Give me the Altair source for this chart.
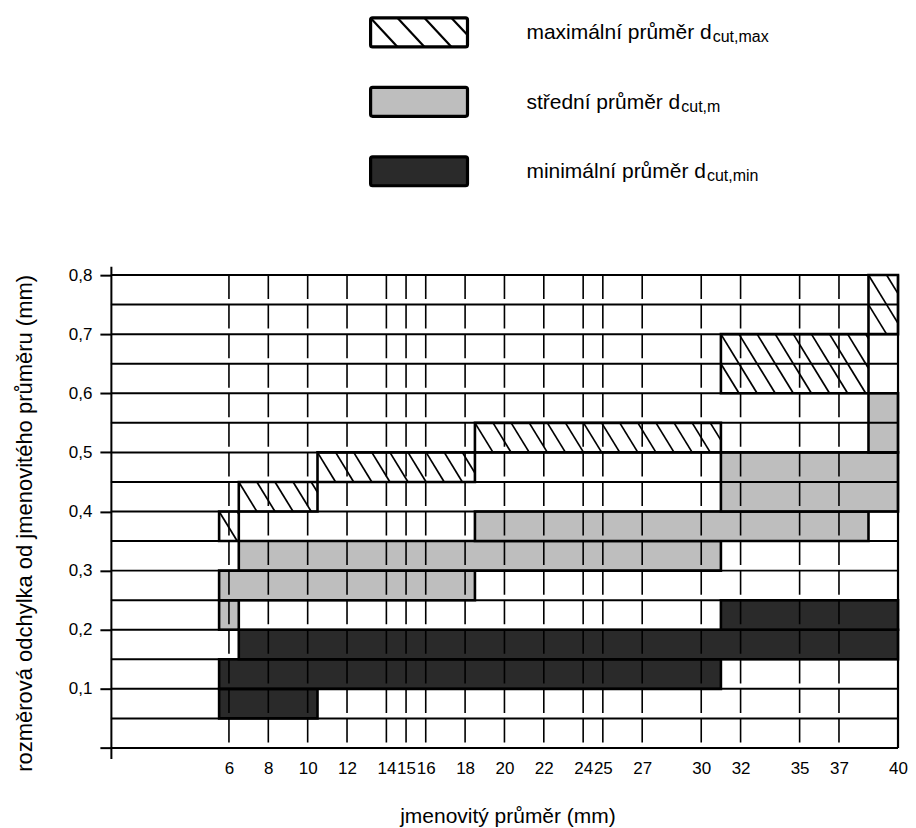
import altair as alt
import numpy as np
import pandas as pd

# ---------------- data ----------------
SERIES = ["max", "mid", "min"]
LEGEND_TEXT = ["maximální průměr d", "střední průměr d", "minimální průměr d"]
LEGEND_SUB = ["cut,max", "cut,m", "cut,min"]

MAX_X1 = [5.5, 6.5, 10.5, 18.5, 31.0, 38.5]
MAX_X2 = [6.5, 10.5, 18.5, 31.0, 38.5, 40.0]
MAX_Y1 = [0.35, 0.40, 0.45, 0.50, 0.60, 0.70]
MAX_Y2 = [0.40, 0.45, 0.50, 0.55, 0.70, 0.80]

MID_X1 = [5.5, 5.5, 6.5, 18.5, 31.0, 38.5]
MID_X2 = [6.5, 18.5, 31.0, 38.5, 40.0, 40.0]
MID_Y1 = [0.20, 0.25, 0.30, 0.35, 0.40, 0.50]
MID_Y2 = [0.25, 0.30, 0.35, 0.40, 0.50, 0.60]

MIN_X1 = [5.5, 5.5, 6.5, 31.0]
MIN_X2 = [10.5, 31.0, 40.0, 40.0]
MIN_Y1 = [0.05, 0.10, 0.15, 0.20]
MIN_Y2 = [0.10, 0.15, 0.20, 0.25]

X_TICKS = [6, 8, 10, 12, 14, 15, 16, 18, 20, 22, 24, 25, 27, 30, 32, 35, 37, 40]
Y_TICKS = [0, 0.1, 0.2, 0.3, 0.4, 0.5, 0.6, 0.7, 0.8]
Y_LINES = [0, 0.05, 0.1, 0.15, 0.2, 0.25, 0.3, 0.35, 0.4, 0.45, 0.5, 0.55,
           0.6, 0.65, 0.7, 0.75, 0.8]
X_MIN, X_MAX = 0, 40
Y_TOP = 0.8
ROW = 0.05

X_TITLE = "jmenovitý průměr (mm)"
Y_TITLE = "rozměrová odchylka od jmenovitého průměru (mm)"

# ---------------- styles / layout ----------------
FONT = "Liberation Sans"
COLORS = ["#ffffff", "#bebebe", "#2a2a2a"]
W, H = 788, 493
Y_DOMAIN = [-0.018, 0.815]
LEG_H = 252
HATCH_STEP = 0.92  # x units between hatch lines (= shift per row)

# legend layout in pixels (relative to the legend panel)
LEG_BX1, LEG_BX2 = 260, 357
LEG_CY0, LEG_STEP, LEG_BH = 19, 69.5, 29
LEG_TX = 416
LEG_FS, LEG_SUB_FS = 21, 16

ARIAL = {'m': 833, 'a': 556, 'x': 500, 'i': 222, 'á': 556, 'l': 222, 'n': 556,
         'í': 278, ' ': 278, 'p': 556, 'r': 333, 'ů': 556, 'ě': 556, 'd': 556,
         's': 500, 't': 278, 'ř': 333, 'e': 556}


def text_width(s, size):
    return sum(ARIAL.get(c, 556) for c in s) * size / 1000.0


def frame(series, x1, x2, y1, y2):
    return pd.DataFrame({"series": series, "x1": x1, "x2": x2, "y1": y1, "y2": y2})


bars = pd.concat([
    frame("max", MAX_X1, MAX_X2, MAX_Y1, MAX_Y2),
    frame("mid", MID_X1, MID_X2, MID_Y1, MID_Y2),
    frame("min", MIN_X1, MIN_X2, MIN_Y1, MIN_Y2),
], ignore_index=True)


def hatch_row(x1, x2, ytop, ybot, step, shift):
    segs = []
    j = -int(np.ceil(shift / step)) - 1
    while True:
        c = x1 + j * step
        if c >= x2:
            break
        t_lo = max(0.0, (x1 - c) / shift)
        t_hi = min(1.0, (x2 - c) / shift)
        if t_hi > t_lo + 1e-9:
            segs.append((c + t_lo * shift, ytop - t_lo * (ytop - ybot),
                         c + t_hi * shift, ytop - t_hi * (ytop - ybot)))
        j += 1
    return segs


hatch_segs = []
for x1, x2, y1, y2 in zip(MAX_X1, MAX_X2, MAX_Y1, MAX_Y2):
    n = int(round((y2 - y1) / ROW))
    for r in range(n):
        top = y2 - r * ROW
        hatch_segs += hatch_row(x1, x2, top, top - ROW, HATCH_STEP, HATCH_STEP)
hatch_df = pd.DataFrame(hatch_segs, columns=["hx1", "hy1", "hx2", "hy2"])

vlines = pd.DataFrame({"x": [t for t in X_TICKS if t < X_MAX]})
vlines["top"] = Y_TOP
vlines["bot"] = 0.0
border = pd.DataFrame({"x": [X_MAX], "top": [Y_TOP], "bot": [0.0]})
hlines = pd.DataFrame({"level": Y_LINES})
hlines["xa"] = X_MIN
hlines["xb"] = X_MAX

xs = alt.Scale(domain=[X_MIN, X_MAX], nice=False, zero=False)
ys = alt.Scale(domain=Y_DOMAIN, nice=False, zero=False)
cs = alt.Scale(domain=SERIES, range=COLORS)

x_axis = alt.Axis(values=X_TICKS, ticks=False, domain=False, grid=False,
                  labelFontSize=17, labelColor="black", labelPadding=2,
                  labelFlush=False, labelOverlap=False,
                  title=X_TITLE, titleFontSize=21, titleFontWeight="normal",
                  titleColor="black", titleX=397, titleY=64,
                  titleBaseline="alphabetic", titleAlign="center")
y_axis = alt.Axis(values=Y_TICKS, grid=False, tickSize=11, tickWidth=2,
                  tickColor="black", domainColor="black", domainWidth=2,
                  labelFontSize=17, labelColor="black", labelPadding=8,
                  labelFlush=False, labelOverlap=False,
                  labelExpr="datum.value == 0 ? '' : replace(format(datum.value, '.1f'), '.', ',')",
                  title=Y_TITLE, titleFontSize=22, titleFontWeight="normal",
                  titleColor="black", titleAngle=270, titleX=-79, titleY=257,
                  titleBaseline="alphabetic", titleAlign="center")

bar_layer = alt.Chart(bars).mark_rect(stroke="black", strokeWidth=2.6).encode(
    x=alt.X("x1:Q", scale=xs, axis=x_axis), x2="x2:Q",
    y=alt.Y("y1:Q", scale=ys, axis=y_axis), y2="y2:Q",
    color=alt.Color("series:N", scale=cs, legend=None),
)
hatch_layer = alt.Chart(hatch_df).mark_rule(color="black", strokeWidth=1.7).encode(
    x=alt.X("hx1:Q", scale=xs, axis=x_axis), x2="hx2:Q",
    y=alt.Y("hy1:Q", scale=ys, axis=y_axis), y2="hy2:Q",
)
vdash_layer = alt.Chart(vlines).mark_rule(color="black", strokeWidth=1.6,
                                          strokeDash=[24, 5.6]).encode(
    x=alt.X("x:Q", scale=xs, axis=x_axis),
    y=alt.Y("top:Q", scale=ys, axis=y_axis), y2="bot:Q",
)
border_layer = alt.Chart(border).mark_rule(color="black", strokeWidth=2.2).encode(
    x=alt.X("x:Q", scale=xs, axis=x_axis),
    y=alt.Y("top:Q", scale=ys, axis=y_axis), y2="bot:Q",
)
hline_layer = alt.Chart(hlines).mark_rule(color="black", strokeWidth=2).encode(
    y=alt.Y("level:Q", scale=ys, axis=y_axis),
    x=alt.X("xa:Q", scale=xs, axis=x_axis), x2="xb:Q",
)

main = alt.layer(bar_layer, hatch_layer, vdash_layer, hline_layer,
                 border_layer).properties(width=W, height=H)

# ---------------- legend panel ----------------
leg = pd.DataFrame({"series": SERIES, "text": LEGEND_TEXT, "sub": LEGEND_SUB})
leg["cy"] = [LEG_CY0 + i * LEG_STEP for i in range(len(leg))]
leg["bx1"] = LEG_BX1
leg["bx2"] = LEG_BX2
leg["by1"] = leg["cy"] - LEG_BH / 2
leg["by2"] = leg["cy"] + LEG_BH / 2
leg["tx"] = LEG_TX
leg["ty"] = leg["cy"] + 7
leg["sx"] = [LEG_TX + text_width(t, LEG_FS) + 1 for t in LEGEND_TEXT]
leg["sy"] = leg["cy"] + 10

r0 = leg.iloc[0]
leg_hatch = pd.DataFrame(hatch_row(LEG_BX1, LEG_BX2, r0["by1"], r0["by2"], 27, 27),
                         columns=["hx1", "hy1", "hx2", "hy2"])

lxs = alt.Scale(domain=[0, W], nice=False, zero=False)
lys = alt.Scale(domain=[0, LEG_H], nice=False, zero=False, reverse=True)

leg_rect = alt.Chart(leg).mark_rect(stroke="black", strokeWidth=3.2,
                                    cornerRadius=2).encode(
    x=alt.X("bx1:Q", scale=lxs, axis=None), x2="bx2:Q",
    y=alt.Y("by1:Q", scale=lys, axis=None), y2="by2:Q",
    color=alt.Color("series:N", scale=cs, legend=None),
)
leg_hatch_layer = alt.Chart(leg_hatch).mark_rule(color="black", strokeWidth=2.2).encode(
    x=alt.X("hx1:Q", scale=lxs, axis=None), x2="hx2:Q",
    y=alt.Y("hy1:Q", scale=lys, axis=None), y2="hy2:Q",
)
leg_text = alt.Chart(leg).mark_text(align="left", baseline="alphabetic",
                                    fontSize=LEG_FS, color="black").encode(
    x=alt.X("tx:Q", scale=lxs, axis=None),
    y=alt.Y("ty:Q", scale=lys, axis=None), text="text:N",
)
leg_sub = alt.Chart(leg).mark_text(align="left", baseline="alphabetic",
                                   fontSize=LEG_SUB_FS, color="black").encode(
    x=alt.X("sx:Q", scale=lxs, axis=None),
    y=alt.Y("sy:Q", scale=lys, axis=None), text="sub:N",
)
legend = alt.layer(leg_rect, leg_hatch_layer, leg_text, leg_sub).properties(
    width=W, height=LEG_H)

chart = alt.vconcat(legend, main, spacing=0).properties(
    padding={"left": 5, "top": 5, "right": 0, "bottom": 0}
).configure(font=FONT).configure_view(strokeWidth=0, stroke="transparent")

chart.save("out.html", embed_options={"renderer": "svg", "actions": False})
